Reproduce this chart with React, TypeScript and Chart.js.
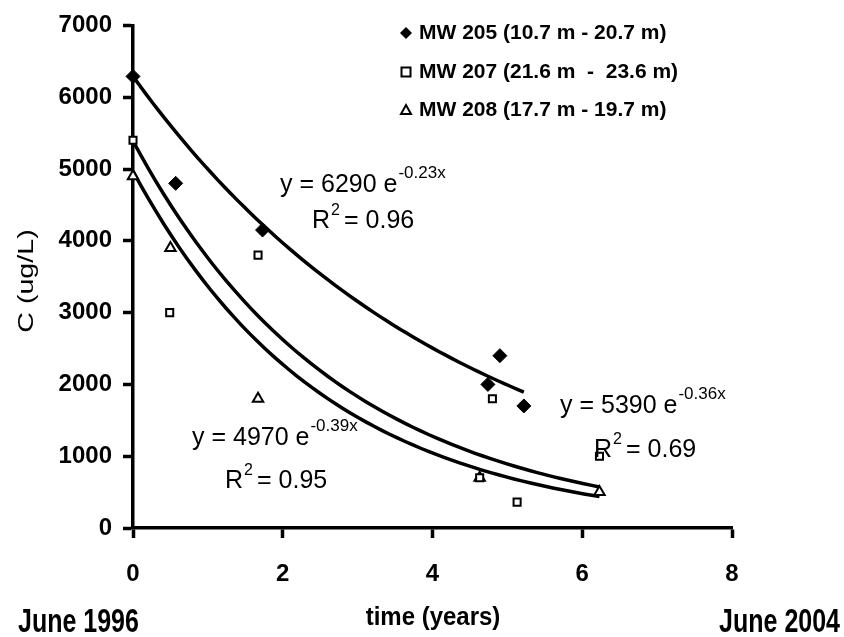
import React, { useEffect, useRef } from "react";
import { Chart, registerables } from "chart.js";

Chart.register(...registerables);

// ---- data ----
const mw205X = [0, 0.57, 1.73, 4.74, 4.9, 5.22];
const mw205Y = [6290, 4800, 4150, 2000, 2400, 1700];
const mw207X = [0, 0.49, 1.67, 4.63, 4.8, 5.13, 6.23];
const mw207Y = [5400, 3000, 3800, 700, 1800, 360, 1000];
const mw208X = [0, 0.5, 1.67, 4.63, 6.23];
const mw208Y = [4900, 3900, 1800, 700, 500];
const seriesLabels = [
  "MW 205 (10.7 m - 20.7 m)",
  "MW 207 (21.6 m  -  23.6 m)",
  "MW 208 (17.7 m - 19.7 m)",
];
// exponential trend lines shown in the chart: y = A e^(k x)
const fitA = [6290, 5390, 4970];
const fitK = [-0.23, -0.36, -0.39];
const fitEnd = [5.22, 6.23, 6.23];
const fitR2 = ["0.96", "0.69", "0.95"];
const xTicks = [0, 2, 4, 6, 8];
const yTicks = [0, 1000, 2000, 3000, 4000, 5000, 6000, 7000];
const periodLabels = ["June 1996", "June 2004"];
const xTitle = "time (years)";
const yTitle = "C (ug/L)";

const FONT = '"Liberation Sans", Arial, sans-serif';

function drawText(
  ctx: CanvasRenderingContext2D,
  text: string,
  x: number,
  y: number,
  size: number,
  weight: string,
  align: CanvasTextAlign,
  baseline: CanvasTextBaseline,
  sx = 1,
  sy = 1
) {
  ctx.save();
  ctx.font = `${weight} ${size}px ${FONT}`;
  ctx.translate(x, y);
  ctx.scale(sx, sy);
  ctx.textAlign = align;
  ctx.textBaseline = baseline;
  ctx.fillStyle = "#000";
  ctx.fillText(text, 0, 0);
  ctx.restore();
}

function textWidth(ctx: CanvasRenderingContext2D, text: string, size: number, weight: string) {
  ctx.save();
  ctx.font = `${weight} ${size}px ${FONT}`;
  const w = ctx.measureText(text).width;
  ctx.restore();
  return w;
}

function drawMarker(ctx: CanvasRenderingContext2D, kind: number, x: number, y: number) {
  ctx.save();
  ctx.lineWidth = 2;
  ctx.strokeStyle = "#000";
  ctx.beginPath();
  if (kind === 0) {
    ctx.moveTo(x, y - 6);
    ctx.lineTo(x + 6, y);
    ctx.lineTo(x, y + 6);
    ctx.lineTo(x - 6, y);
    ctx.closePath();
    ctx.fillStyle = "#000";
    ctx.fill();
  } else if (kind === 1) {
    ctx.rect(x - 4.5, y - 4.5, 9, 9);
    ctx.fillStyle = "#fff";
    ctx.fill();
    ctx.stroke();
  } else {
    ctx.moveTo(x, y - 5);
    ctx.lineTo(x + 5, y + 4);
    ctx.lineTo(x - 5, y + 4);
    ctx.closePath();
    ctx.fillStyle = "#fff";
    ctx.fill();
    ctx.stroke();
  }
  ctx.restore();
}

function drawEquation(ctx: CanvasRenderingContext2D, i: number, x: number, y: number, rx: number, ry: number) {
  const main = `y = ${fitA[i]} e`;
  drawText(ctx, main, x, y, 25, "normal", "left", "alphabetic");
  const w = textWidth(ctx, main, 25, "normal");
  drawText(ctx, `${fitK[i].toFixed(2)}x`, x + w + 1, y - 14, 17, "normal", "left", "alphabetic");
  drawText(ctx, "R", rx, ry, 25, "normal", "left", "alphabetic");
  const wr = textWidth(ctx, "R", 25, "normal");
  drawText(ctx, "2", rx + wr + 1, ry - 13, 16, "normal", "left", "alphabetic");
  drawText(ctx, `= ${fitR2[i]}`, rx + wr + 14, ry, 25, "normal", "left", "alphabetic");
}

const annotations = {
  id: "annotations",
  afterDraw(chart: any) {
    const ctx: CanvasRenderingContext2D = chart.ctx;
    // legend
    const ly = [33, 72, 110];
    for (let i = 0; i < 3; i++) {
      drawMarker(ctx, i, 406, ly[i]);
      drawText(ctx, seriesLabels[i], 419, ly[i], 20, "bold", "left", "middle", 1.05, 1);
    }
    // equations
    drawEquation(ctx, 0, 280, 192, 312, 228);
    drawEquation(ctx, 1, 560, 413, 594, 457);
    drawEquation(ctx, 2, 192, 445, 225, 488);
    // axis titles
    ctx.save();
    ctx.translate(27, 281);
    ctx.rotate(-Math.PI / 2);
    drawText(ctx, yTitle, 0, 0, 22, "normal", "center", "middle", 1.3, 1);
    ctx.restore();
    drawText(ctx, xTitle, 433, 625, 24, "bold", "center", "alphabetic", 1, 1.1);
    drawText(ctx, periodLabels[0], 18, 632, 25, "bold", "left", "alphabetic", 1, 1.35);
    drawText(ctx, periodLabels[1], 840, 632, 25, "bold", "right", "alphabetic", 1, 1.35);
  },
};

function trendPoints(i: number) {
  const pts: { x: number; y: number }[] = [];
  const n = 60;
  for (let j = 0; j <= n; j++) {
    const x = (fitEnd[i] * j) / n;
    pts.push({ x, y: fitA[i] * Math.exp(fitK[i] * x) });
  }
  return pts;
}

const toPts = (xs: number[], ys: number[]) => xs.map((x, i) => ({ x, y: ys[i] }));

export default function App() {
  const ref = useRef<HTMLCanvasElement | null>(null);
  useEffect(() => {
    if (!ref.current) return;
    const trend = (i: number) => ({
      type: "scatter" as const,
      label: "trend" + i,
      data: trendPoints(i),
      showLine: true,
      borderColor: "#000",
      borderWidth: 3.5,
      pointRadius: 0,
      fill: false,
      tension: 0,
      clip: false as any,
      order: 2,
    });
    const chart = new Chart(ref.current, {
      type: "scatter",
      data: {
        datasets: [
          trend(0),
          trend(1),
          trend(2),
          {
            label: seriesLabels[0],
            data: toPts(mw205X, mw205Y),
            pointStyle: "rectRot",
            pointRadius: 7,
            backgroundColor: "#000",
            borderColor: "#000",
            borderWidth: 1,
            clip: false as any,
            order: 1,
          },
          {
            label: seriesLabels[1],
            data: toPts(mw207X, mw207Y),
            pointStyle: "rect",
            pointRadius: 5,
            backgroundColor: "#fff",
            borderColor: "#000",
            borderWidth: 2,
            clip: false as any,
            order: 0,
          },
          {
            label: seriesLabels[2],
            data: toPts(mw208X, mw208Y),
            pointStyle: "triangle",
            pointRadius: 6,
            backgroundColor: "#fff",
            borderColor: "#000",
            borderWidth: 2,
            clip: false as any,
            order: 0,
          },
        ],
      },
      options: {
        responsive: false,
        animation: false,
        devicePixelRatio: 1,
        layout: { padding: { top: 22, right: 112, left: 0, bottom: 0 } },
        plugins: { legend: { display: false }, tooltip: { enabled: false } },
        scales: {
          x: {
            type: "linear",
            min: 0,
            max: 8,
            afterBuildTicks: (s: any) => {
              s.ticks = xTicks.map((v) => ({ value: v }));
            },
            afterFit: (s: any) => {
              s.height = 109;
            },
            ticks: {
              color: "#000",
              font: { family: FONT, size: 24, weight: "bold" },
              padding: 22,
              maxRotation: 0,
              callback: (v: any) => String(v),
            },
            grid: {
              display: true,
              drawOnChartArea: false,
              drawTicks: true,
              tickLength: 10,
              tickWidth: 3.5,
              tickColor: "#000",
            },
            border: { display: true, color: "#000", width: 3.5 },
          },
          y: {
            type: "linear",
            min: 0,
            max: 7000,
            afterBuildTicks: (s: any) => {
              s.ticks = yTicks.map((v) => ({ value: v }));
            },
            afterFit: (s: any) => {
              s.width = 133;
            },
            ticks: {
              color: "#000",
              font: { family: FONT, size: 24, weight: "bold" },
              padding: 11,
              callback: (v: any) => String(v),
            },
            grid: {
              display: true,
              drawOnChartArea: false,
              drawTicks: true,
              tickLength: 10,
              tickWidth: 3.5,
              tickColor: "#000",
            },
            border: { display: true, color: "#000", width: 3.5 },
          },
        },
      } as any,
      plugins: [annotations],
    });
    return () => chart.destroy();
  }, []);
  return (
    <div style={{ position: "fixed", left: 0, top: 0, width: 844, height: 637, background: "#fff" }}>
      <canvas ref={ref} width={844} height={637} style={{ width: 844, height: 637, display: "block" }} />
    </div>
  );
}
